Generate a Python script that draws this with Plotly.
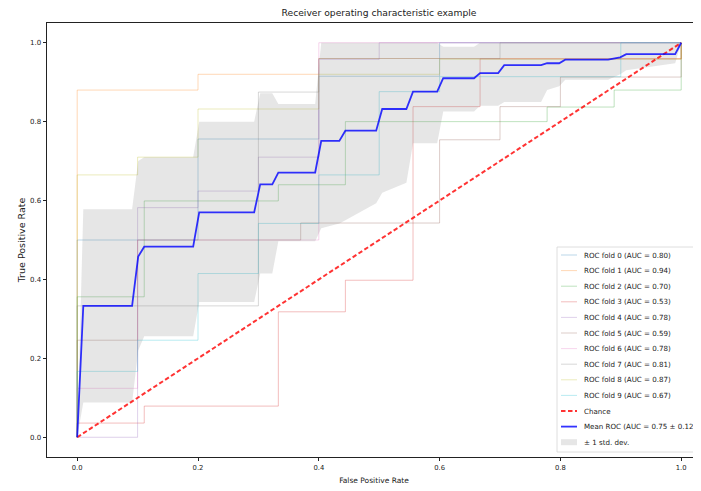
import plotly.graph_objects as go

# ---------------- data ----------------
fold_names = [f"ROC fold {i}" for i in range(10)]
fold_auc = [0.80, 0.94, 0.70, 0.53, 0.78, 0.59, 0.78, 0.81, 0.87, 0.67]
fold_colors = ["#1f77b4", "#ff7f0e", "#2ca02c", "#d62728", "#9467bd",
               "#8c564b", "#e377c2", "#7f7f7f", "#bcbd22", "#17becf"]

# each fold: FPR at which TPR jumps, and the TPR level reached there
fold_step_fpr = [
    [0.0, 0.2, 0.4, 0.6],
    [0.0, 0.2, 0.4, 1.0],
    [0.0, 0.111, 0.333, 0.444, 0.778, 0.889, 1.0],
    [0.0, 0.111, 0.333, 0.444, 0.556, 0.667, 1.0],
    [0.1, 0.2, 0.3, 0.4, 0.5],
    [0.0, 0.1, 0.37, 0.6, 0.7, 0.8, 1.0],
    [0.0, 0.1, 0.4],
    [0.0, 0.3, 0.4, 0.7],
    [0.0, 0.1, 0.2, 0.4, 0.6, 1.0],
    [0.0, 0.1, 0.2, 0.3, 0.4, 0.5, 0.6, 0.9],
]
fold_step_tpr = [
    [0.5, 0.756, 0.915, 1.0],
    [0.88, 0.92, 0.96, 1.0],
    [0.356, 0.599, 0.64, 0.80, 0.837, 0.88, 1.0],
    [0.036, 0.079, 0.318, 0.398, 0.838, 0.959, 1.0],
    [0.582, 0.624, 0.71, 0.958, 1.0],
    [0.246, 0.5, 0.543, 0.754, 0.838, 0.913, 1.0],
    [0.124, 0.5, 1.0],
    [0.333, 0.875, 0.96, 1.0],
    [0.665, 0.71, 0.832, 0.92, 0.958, 1.0],
    [0.167, 0.246, 0.415, 0.542, 0.665, 0.876, 0.914, 1.0],
]

mean_fpr = [0.0, 0.0101, 0.0909, 0.101, 0.111, 0.192, 0.202, 0.293, 0.303, 0.323,
            0.333, 0.394, 0.404, 0.434, 0.444, 0.495, 0.505, 0.545, 0.556, 0.596,
            0.606, 0.657, 0.667, 0.697, 0.707, 0.768, 0.778, 0.798, 0.808, 0.879,
            0.899, 0.909, 0.990, 1.0]
mean_tpr = [0.0, 0.333, 0.333, 0.458, 0.483, 0.483, 0.570, 0.570, 0.641, 0.641,
            0.671, 0.671, 0.751, 0.751, 0.777, 0.777, 0.832, 0.832, 0.876, 0.876,
            0.910, 0.910, 0.923, 0.923, 0.943, 0.943, 0.948, 0.948, 0.957, 0.957,
            0.963, 0.971, 0.971, 1.0]
tpr_upper = [0.0, 0.578, 0.578, 0.70, 0.71, 0.71, 0.80, 0.80, 0.872, 0.872,
             0.845, 0.845, 1.0, 1.0, 1.0, 1.0, 1.0, 1.0, 1.0, 1.0,
             0.99, 0.99, 1.0, 1.0, 1.0, 1.0, 1.0, 1.0, 1.0, 1.0,
             1.0, 1.0, 1.0, 1.0]
tpr_lower = [0.0, 0.088, 0.088, 0.22, 0.256, 0.256, 0.343, 0.343, 0.415, 0.415,
             0.497, 0.497, 0.53, 0.542, 0.55, 0.593, 0.62, 0.645, 0.745, 0.745,
             0.826, 0.826, 0.84, 0.84, 0.85, 0.85, 0.88, 0.89, 0.906, 0.906,
             0.92, 0.93, 0.948, 1.0]
mean_auc, std_auc = 0.75, 0.12
chance = [0.0, 1.0]

x_ticks = [0.0, 0.2, 0.4, 0.6, 0.8, 1.0]
y_ticks = [0.0, 0.2, 0.4, 0.6, 0.8, 1.0]

# ---------------- figure ----------------
W, H = 701, 491
OFF = 8                      # page body margin that shifts the figure on screen
L, T = 39, 15                # plot area left/top in figure pixels
R = 8                        # plot area right edge at the visible window edge
PLOT_H = 434
B = H - T - PLOT_H
FONT = "DejaVu Sans"
INK = "#222222"


def hex_rgba(h, a):
    h = h.lstrip("#")
    return f"rgba({int(h[0:2],16)},{int(h[2:4],16)},{int(h[4:6],16)},{a})"


fig = go.Figure()

for i in range(10):
    xs, ys = [0.0], [0.0]
    prev = 0.0
    for f, t in zip(fold_step_fpr[i], fold_step_tpr[i]):
        xs += [f, f]
        ys += [prev, t]
        prev = t
    xs.append(1.0)
    ys.append(prev)
    fig.add_trace(go.Scatter(x=xs, y=ys, mode="lines",
                             line=dict(color=hex_rgba(fold_colors[i], 0.3), width=1),
                             name=f"{fold_names[i]} (AUC = {fold_auc[i]:.2f})",
                             showlegend=False, hoverinfo="skip"))

# std band
fig.add_trace(go.Scatter(x=mean_fpr + mean_fpr[::-1], y=tpr_upper + tpr_lower[::-1],
                         fill="toself", fillcolor="rgba(128,128,128,0.2)",
                         line=dict(width=0), mode="lines", showlegend=False,
                         hoverinfo="skip"))

fig.add_trace(go.Scatter(x=chance, y=chance, mode="lines",
                         line=dict(color="rgba(255,0,0,0.8)", width=2, dash="4.5px,2.5px"),
                         showlegend=False))

fig.add_trace(go.Scatter(x=mean_fpr, y=mean_tpr, mode="lines",
                         line=dict(color="rgba(0,0,255,0.8)", width=1.8),
                         showlegend=False))

plot_w = W - L - R
xpix = 604.0  # pixels per unit on x
x_lo = -0.05
x_hi = x_lo + plot_w / xpix

fig.update_xaxes(range=[x_lo, x_hi], tickvals=x_ticks, automargin=False,
                 ticktext=[f"{v:.1f}" for v in x_ticks],
                 ticks="outside", ticklen=3.5, tickwidth=0.8, tickcolor=INK,
                 showline=True, linecolor=INK, linewidth=0.8, mirror=True,
                 showgrid=False, zeroline=False,
                 tickfont=dict(family=FONT, size=6.8, color=INK),
                 title=dict(text="False Positive Rate",
                            font=dict(family=FONT, size=7.5, color=INK), standoff=7))
fig.update_yaxes(range=[-0.05, 1.05], tickvals=y_ticks, automargin=False,
                 ticktext=[f"{v:.1f}" for v in y_ticks],
                 ticks="outside", ticklen=3.5, tickwidth=0.8, tickcolor=INK,
                 showline=True, linecolor=INK, linewidth=0.8,
                 showgrid=False, zeroline=False,
                 tickfont=dict(family=FONT, size=7, color=INK),
                 title=dict(text="True Positive Rate",
                            font=dict(family=FONT, size=9.5, color=INK), standoff=2))

# ---------------- custom legend ----------------
shapes = []
annotations = []
lx0, ly0, lx1, ly1 = 557, 247, 712, 452   # on-screen pixels


def px(x):
    return (x - OFF - L) / plot_w


def py(y):
    return 1 - (y - OFF - T) / PLOT_H


shapes.append(dict(type="rect", xref="paper", yref="paper",
                   x0=px(lx0), x1=px(lx1), y0=py(ly1), y1=py(ly0),
                   line=dict(color="#d6d6d6", width=0.8),
                   fillcolor="rgba(255,255,255,0.8)", layer="above"))

labels = [f"{fold_names[i]} (AUC = {fold_auc[i]:.2f})" for i in range(10)]
labels += ["Chance", f"Mean ROC (AUC = {mean_auc:.2f} ± {std_auc:.2f})", "± 1 std. dev."]
line_styles = [dict(color=hex_rgba(c, 0.3), width=1) for c in fold_colors]
line_styles += [dict(color="rgba(255,0,0,0.8)", width=2, dash="4.5px,2.5px"),
                dict(color="rgba(0,0,255,0.8)", width=1.8), None]

y_start, y_step = 255.0, 15.6
for k, lab in enumerate(labels):
    yc = y_start + k * y_step
    if line_styles[k] is not None:
        shapes.append(dict(type="line", xref="paper", yref="paper",
                           x0=px(561), x1=px(577), y0=py(yc), y1=py(yc),
                           line=line_styles[k], layer="above"))
    else:
        shapes.append(dict(type="rect", xref="paper", yref="paper",
                           x0=px(561), x1=px(577), y0=py(yc + 3), y1=py(yc - 3),
                           line=dict(width=0), fillcolor="rgba(128,128,128,0.2)",
                           layer="above"))
    annotations.append(dict(xref="paper", yref="paper", x=px(581.5), y=py(yc),
                            text=lab, showarrow=False, xanchor="left", yanchor="middle",
                            font=dict(family=FONT, size=7.1, color=INK)))

fig.update_layout(
    width=W, height=H,
    margin=dict(l=L, r=R, t=T, b=B, pad=0, autoexpand=False),
    paper_bgcolor="white", plot_bgcolor="white",
    showlegend=False,
    title=dict(text="Receiver operating characteristic example",
               x=px(379), xref="paper", y=1 - (12 - OFF + 1) / H, yref="container",
               xanchor="center", yanchor="middle",
               font=dict(family=FONT, size=9.2, color=INK)),
    shapes=shapes, annotations=annotations,
)

fig.write_html("out.html")
